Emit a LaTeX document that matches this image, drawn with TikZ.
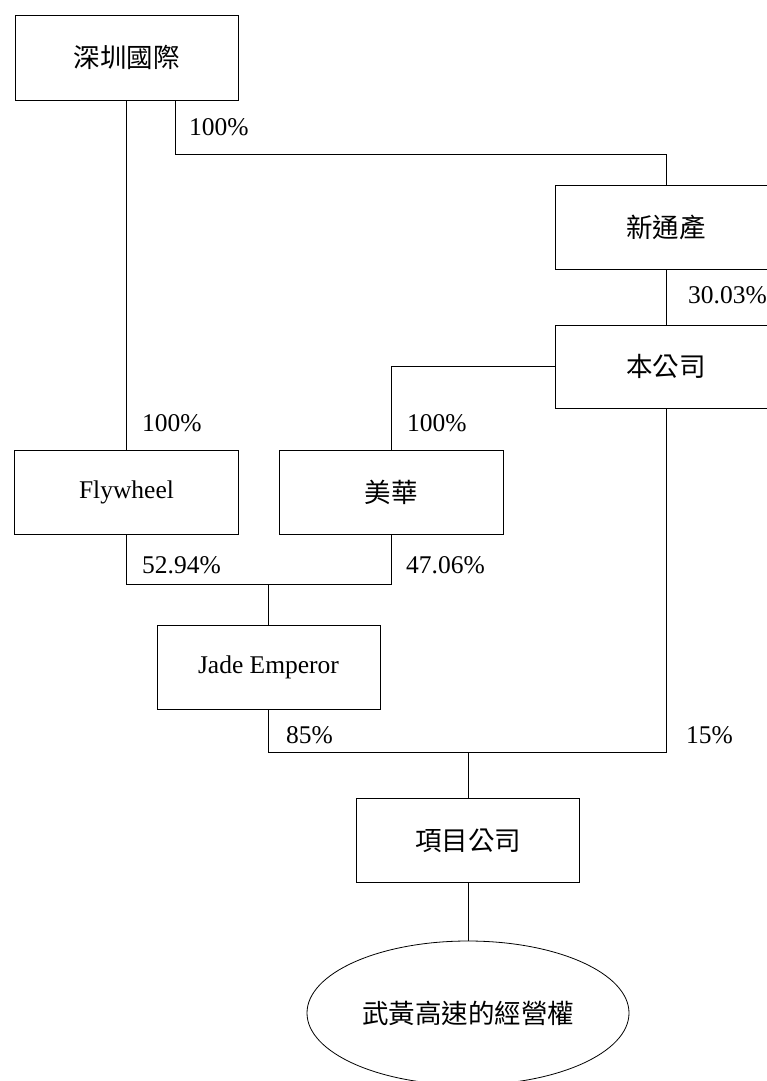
\documentclass[tikz,border=0pt]{standalone}
\usepackage{fontspec}
\setmainfont{Liberation Serif}
\newfontfamily\cjk{Noto Sans CJK TC}
\usetikzlibrary{shapes.geometric,calc}
\newcommand{\cj}{\cjk\fontsize{26.5}{30}\selectfont}
\begin{document}
\begin{tikzpicture}[x=1pt,y=-1pt,
  box/.style={draw, line width=0.8pt, minimum width=223pt, minimum height=84pt, inner sep=0pt, font=\fontsize{25.5}{30}\selectfont},
  oval/.style={draw, line width=0.8pt, ellipse, minimum width=322pt, minimum height=144pt, inner sep=0pt, font=\fontsize{25}{30}\selectfont},
  conn/.style={line width=0.8pt},
  pct/.style={anchor=west, inner sep=0pt, font=\fontsize{25.5}{28}\selectfont}]
\useasboundingbox (0,0) rectangle (767,1081);
\node[box, minimum height=85pt] (shz) at (126.5,57.5) {\cj 深圳國際};
\node[box, minimum width=222pt] (xtc) at (666,227) {\cj 新通產};
\node[box, minimum width=222pt, minimum height=83pt] (bgs) at (666,366.5) {\cj 本公司};
\node[box, minimum width=224pt] (fly) at (126.5,492) {Flywheel};
\node[box, minimum width=224pt] (mh) at (391,492) {\cj 美華};
\node[box] (jade) at (268.5,667) {Jade Emperor};
\node[box] (xm) at (468,840.5) {\cj 項目公司};
\node[oval] (ell) at (468,1013) {\cj 武黃高速的經營權};
\coordinate (j2) at (268.5,584);
\coordinate (j1) at (468,752);
\draw[conn] (shz.south) -- (fly.north);
\draw[conn] ([xshift=48.5pt]shz.south) -- ++(0,54) -| (xtc.north);
\draw[conn] (xtc.south) -- (bgs.north);
\draw[conn] (bgs.west) -| (mh.north);
\draw[conn] (fly.south) |- (j2);
\draw[conn] (mh.south) |- (j2);
\draw[conn] (j2) -- (jade.north);
\draw[conn] (jade.south) |- (j1);
\draw[conn] (bgs.south) |- (j1);
\draw[conn] (j1) -- (xm.north);
\draw[conn] (xm.south) -- (ell.north);
\node[pct] (p1) at (189,127) {100\%};
\node[pct] (p2) at (688,295) {30.03\%};
\node[pct] (p3) at (142,423) {100\%};
\node[pct] (p4) at (407,423) {100\%};
\node[pct] (p5) at (142,565) {52.94\%};
\node[pct] (p6) at (406,565) {47.06\%};
\node[pct] (p7) at (286,735) {85\%};
\node[pct] (p8) at (686,735) {15\%};
\end{tikzpicture}
\end{document}
